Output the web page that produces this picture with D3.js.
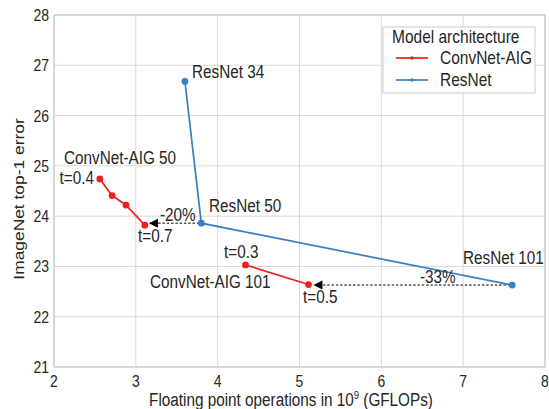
<!DOCTYPE html>
<html>
<head>
<meta charset="utf-8">
<script src="https://cdn.jsdelivr.net/npm/d3@7"></script>
<style>
  body { margin: 0; background: #fff; }
  svg { font-family: "Liberation Sans", Arial, sans-serif; }
</style>
</head>
<body>
<div id="chart"></div>
<script>
// data
const resnetFlops = [3.6, 3.8, 7.6];
const resnetError = [26.68, 23.86, 22.63];
const resnetNames = ["ResNet 34", "ResNet 50", "ResNet 101"];

const aig50Flops = [2.56, 2.71, 2.88, 3.11];
const aig50Error = [24.74, 24.41, 24.22, 23.82];

const aig101Flops = [4.34, 5.11];
const aig101Error = [23.03, 22.64];

const xTicks = [2, 3, 4, 5, 6, 7, 8];
const yTicks = [21, 22, 23, 24, 25, 26, 27, 28];

const width = 549, height = 409;
const margin = { top: 15, right: 4, bottom: 42, left: 54 };

// the reference text looks stretched vertically
const stretch = 1.2;
const textCol = "#262626";
const red = "#ee1f1f";
const blue = "#3a7fc1";

const svg = d3.select("#chart").append("svg")
    .attr("width", width)
    .attr("height", height);

const x = d3.scaleLinear().domain([2, 8]).range([margin.left, width - margin.right]);
const y = d3.scaleLinear().domain([21, 28]).range([height - margin.bottom, margin.top]);

function addText(g, tx, ty, str, size, anchor) {
    return g.append("text")
        .attr("transform", `translate(${tx},${ty}) scale(1,${stretch})`)
        .attr("text-anchor", anchor || "start")
        .attr("font-size", size)
        .attr("fill", textCol)
        .text(str);
}

// grid
svg.append("g").selectAll("line")
    .data(xTicks)
    .join("line")
    .attr("x1", d => x(d)).attr("x2", d => x(d))
    .attr("y1", y(21)).attr("y2", y(28))
    .attr("stroke", "#d9d9d9").attr("stroke-width", 1);

svg.append("g").selectAll("line")
    .data(yTicks)
    .join("line")
    .attr("x1", x(2)).attr("x2", x(8))
    .attr("y1", d => y(d)).attr("y2", d => y(d))
    .attr("stroke", "#d9d9d9").attr("stroke-width", 1);

// frame
svg.append("rect")
    .attr("x", x(2)).attr("y", y(28))
    .attr("width", x(8) - x(2)).attr("height", y(21) - y(28))
    .attr("fill", "none").attr("stroke", "#cccccc").attr("stroke-width", 1.3);

// tick labels
const tickG = svg.append("g");
xTicks.forEach(t => addText(tickG, x(t), y(21) + 20, d3.format("d")(t), 14, "middle"));
yTicks.forEach(t => addText(tickG, x(2) - 5, y(t) + 6, d3.format("d")(t), 14, "end"));

// axis titles
const xt = svg.append("text")
    .attr("transform", `translate(291,${height - 3}) scale(1,${stretch})`)
    .attr("text-anchor", "middle")
    .attr("font-size", 15.3)
    .attr("fill", textCol);
xt.append("tspan").text("Floating point operations in 10");
xt.append("tspan").attr("font-size", 9.5).attr("dy", -6).text("9");
xt.append("tspan").attr("dy", 6).text(" (GFLOPs)");

svg.append("text")
    .attr("transform", `translate(24,199) rotate(-90) scale(${stretch},1)`)
    .attr("text-anchor", "middle")
    .attr("font-size", 14.5)
    .attr("fill", textCol)
    .text("ImageNet top-1 error");

// dashed arrows
const arrows = [
    { from: resnetFlops[1], to: 3.16, y: resnetError[1] },
    { from: resnetFlops[2], to: 5.17, y: resnetError[2] }
];
svg.append("g").selectAll("line")
    .data(arrows)
    .join("line")
    .attr("x1", d => x(d.from) - 2).attr("x2", d => x(d.to) + 8)
    .attr("y1", d => y(d.y)).attr("y2", d => y(d.y))
    .attr("stroke", "#000").attr("stroke-width", 1)
    .attr("stroke-dasharray", "2.5,1.8");
svg.append("g").selectAll("path")
    .data(arrows)
    .join("path")
    .attr("d", d => `M${x(d.to)},${y(d.y)} l9,-4.5 l0,9 Z`)
    .attr("fill", "#000");

// series
const line = d3.line().x(d => x(d[0])).y(d => y(d[1]));
const series = [
    { flops: resnetFlops, err: resnetError, color: blue },
    { flops: aig50Flops, err: aig50Error, color: red },
    { flops: aig101Flops, err: aig101Error, color: red }
];
series.forEach(s => {
    const pts = s.flops.map((f, i) => [f, s.err[i]]);
    svg.append("path")
        .datum(pts)
        .attr("d", line)
        .attr("fill", "none")
        .attr("stroke", s.color)
        .attr("stroke-width", 1.7);
    svg.append("g").selectAll("circle")
        .data(pts)
        .join("circle")
        .attr("cx", d => x(d[0])).attr("cy", d => y(d[1]))
        .attr("r", 3.4)
        .attr("fill", s.color);
});

// annotations
const labels = [
    { t: resnetNames[0], x: 192, y: 78, a: "start" },
    { t: resnetNames[1], x: 209, y: 212, a: "start" },
    { t: resnetNames[2], x: 463, y: 264, a: "start" },
    { t: "ConvNet-AIG 50", x: 64, y: 164, a: "start" },
    { t: "t=0.4", x: 94, y: 184, a: "end" },
    { t: "t=0.7", x: 138, y: 242, a: "start" },
    { t: "-20%", x: 160, y: 221, a: "start" },
    { t: "t=0.3", x: 224, y: 258, a: "start" },
    { t: "ConvNet-AIG 101", x: 150, y: 288, a: "start" },
    { t: "t=0.5", x: 303, y: 303, a: "start" },
    { t: "-33%", x: 420, y: 283, a: "start" }
];
const labelG = svg.append("g");
labels.forEach(d => addText(labelG, d.x, d.y, d.t, 15.3, d.a));

// legend
const legend = svg.append("g").attr("transform", "translate(383,27)");
legend.append("rect")
    .attr("width", 152).attr("height", 66)
    .attr("fill", "#fff").attr("fill-opacity", 0.85)
    .attr("stroke", "#cccccc").attr("stroke-width", 1);
addText(legend, 9, 16, "Model architecture", 15.5, "start");
const legendItems = [
    { label: "ConvNet-AIG", color: red },
    { label: "ResNet", color: blue }
];
legendItems.forEach((item, i) => {
    const gy = 31 + i * 22;
    legend.append("line")
        .attr("x1", 13).attr("x2", 45)
        .attr("y1", gy).attr("y2", gy)
        .attr("stroke", item.color).attr("stroke-width", 1.7);
    legend.append("circle")
        .attr("cx", 29).attr("cy", gy).attr("r", 1.8)
        .attr("fill", item.color);
    addText(legend, 57, gy + 6, item.label, 15.5, "start");
});
</script>
</body>
</html>
